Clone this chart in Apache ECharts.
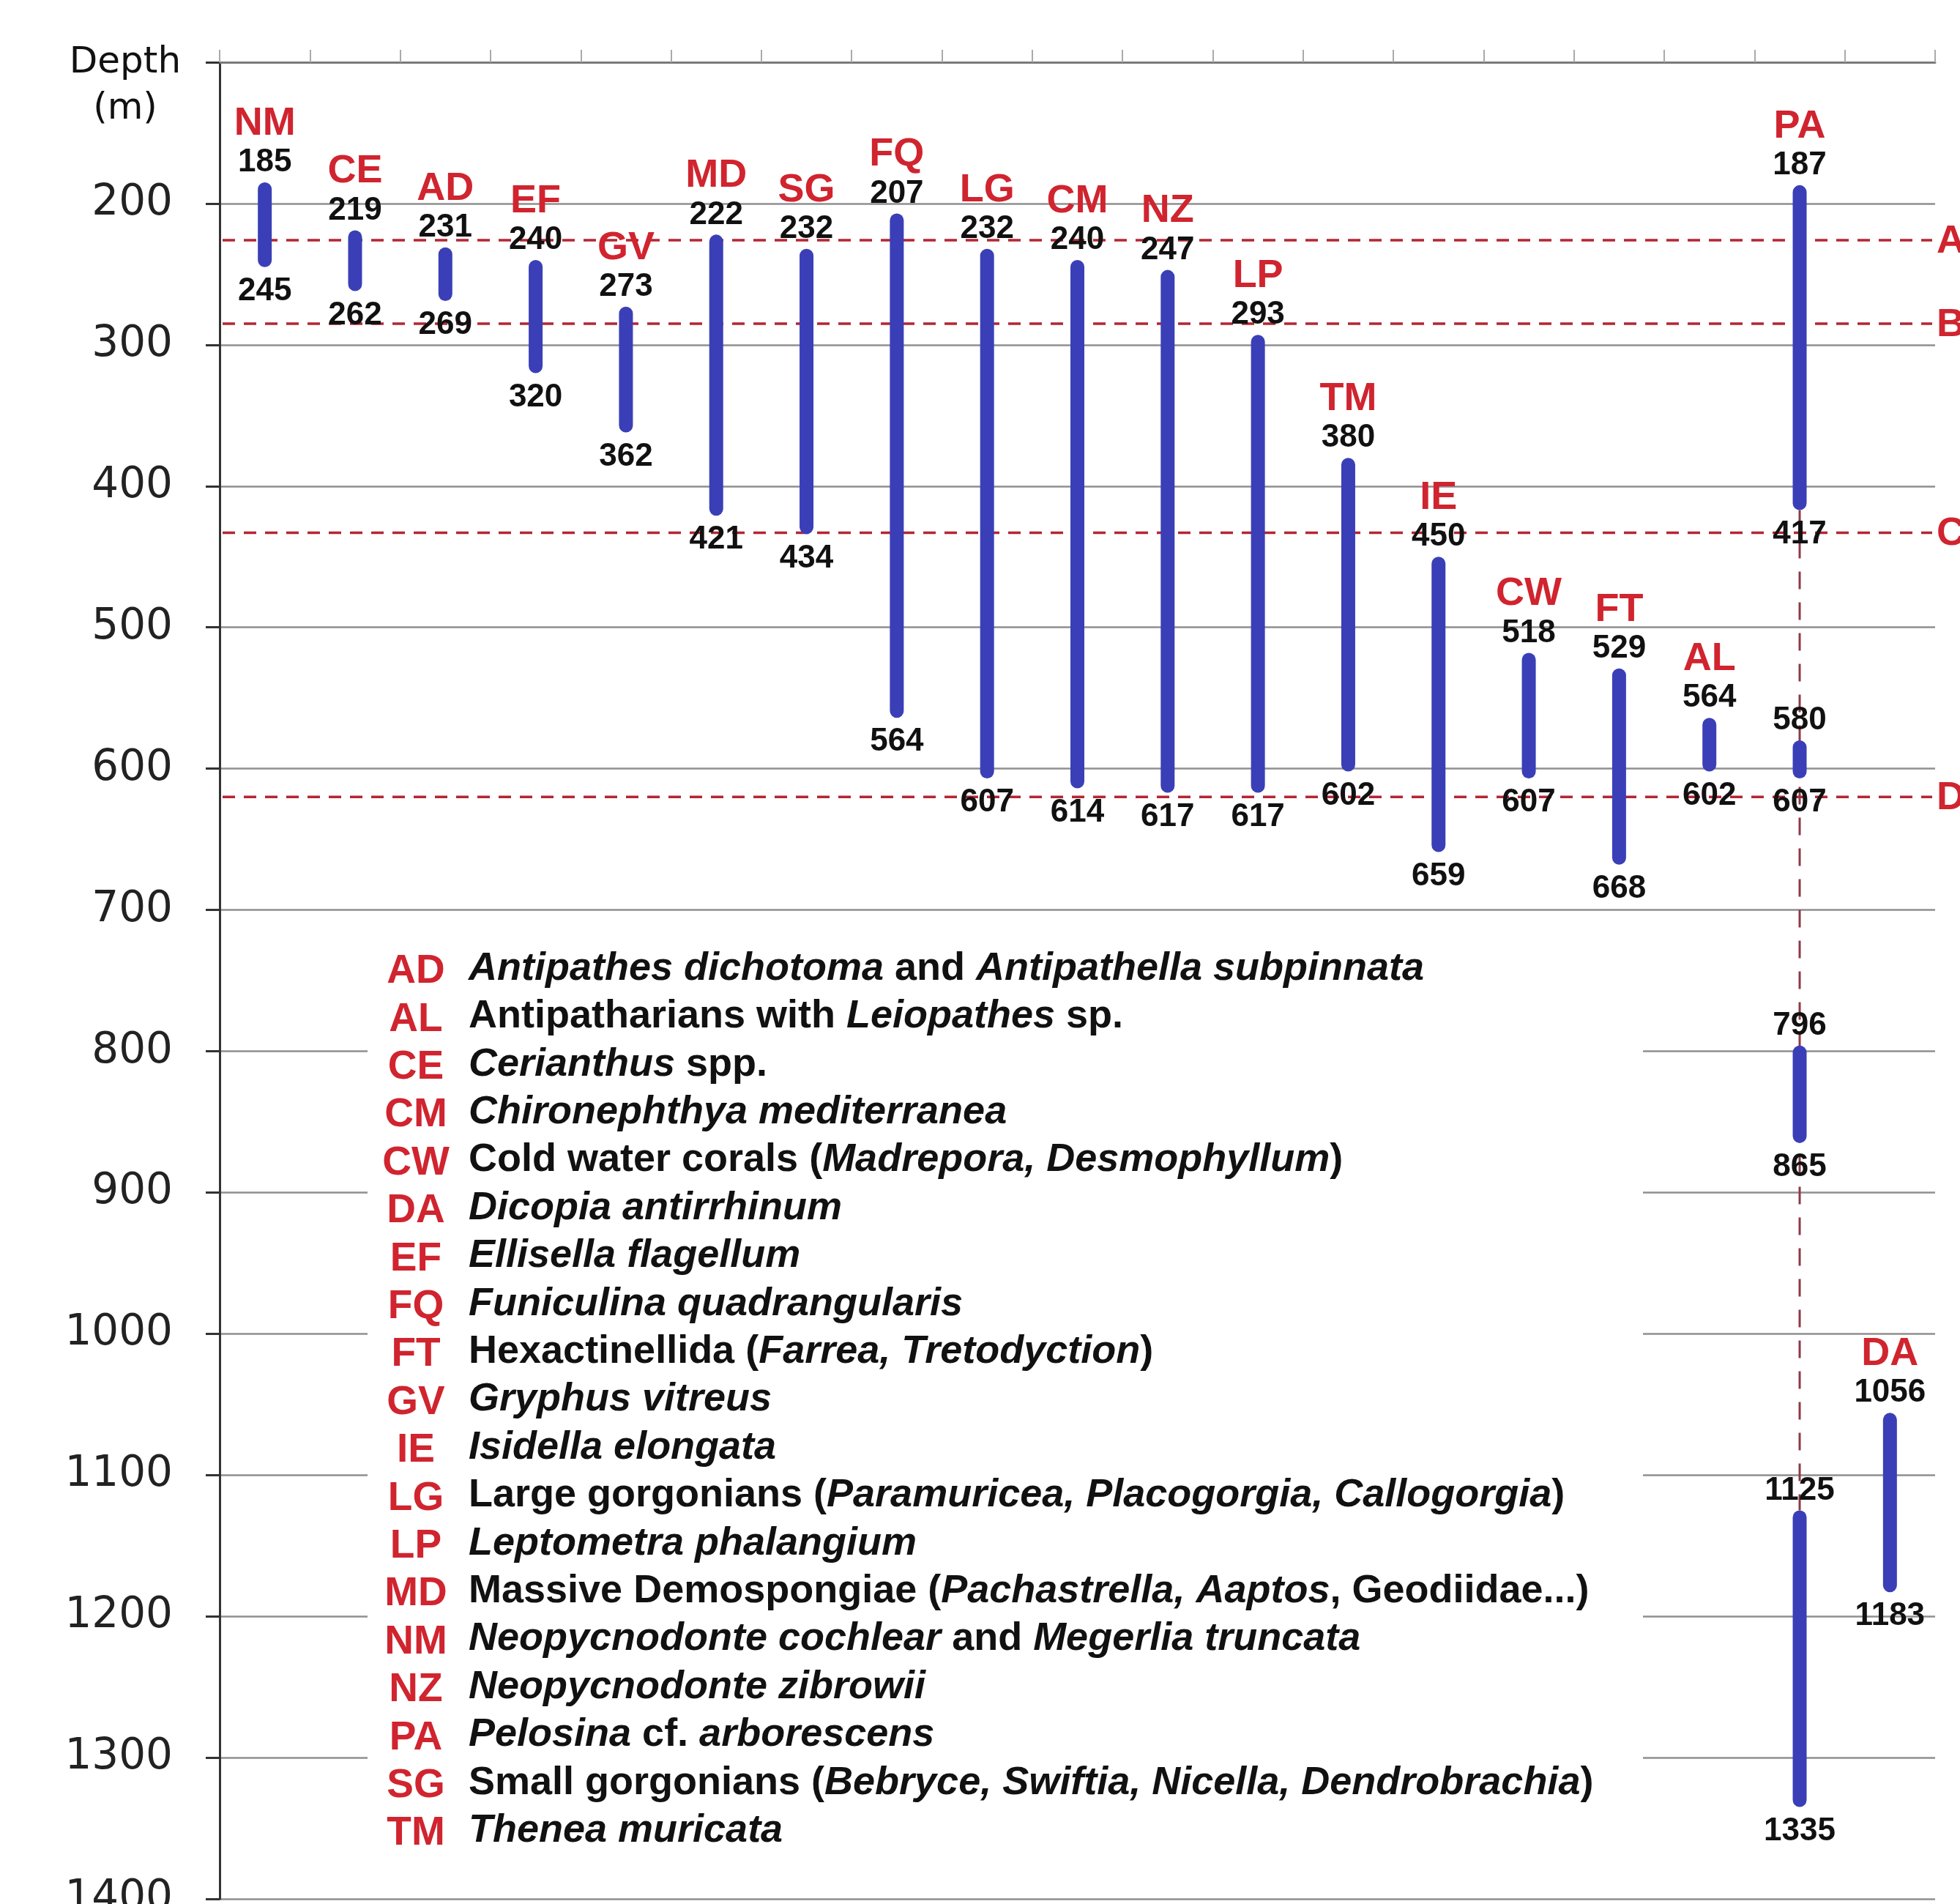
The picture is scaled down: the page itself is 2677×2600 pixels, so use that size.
<!DOCTYPE html>
<html>
<head>
<meta charset="utf-8">
<script src="https://cdn.jsdelivr.net/npm/echarts@6/dist/echarts.min.js"></script>
<style>
html,body{margin:0;padding:0;background:#fff;}
#chart{width:2677px;height:2600px;}
</style>
</head>
<body>
<div id="chart"></div>
<script>
// ---- data ----
const categories = ['NM','CE','AD','EF','GV','MD','SG','FQ','LG','CM','NZ','LP','TM','IE','CW','FT','AL','PA','DA'];
const rangeTop    = [185,219,231,240,273,222,232,207,232,240,247,293,380,450,518,529,564,187,1056];
const rangeBottom = [245,262,269,320,362,421,434,564,607,614,617,617,602,659,607,668,602,417,1183];
// extra (disjunct) depth segments
const extraCategory = ['PA','PA','PA'];
const extraTop      = [580,796,1125];
const extraBottom   = [607,865,1335];
// dashed connector between disjunct segments
const linkCategory = ['PA'];
const linkFrom     = [417];
const linkTo       = [1125];
// horizontal zone boundaries
const zoneDepth = [226,285,433,620];
const zoneLabel = ['A','B','C','D'];
// y axis
const depthMin = 100, depthMax = 1400, depthStep = 100;
// legend
const legendCodes = ['AD','AL','CE','CM','CW','DA','EF','FQ','FT','GV','IE','LG','LP','MD','NM','NZ','PA','SG','TM'];
const legendNames = [
 '*Antipathes dichotoma* and *Antipathella subpinnata*',
 'Antipatharians with *Leiopathes* sp.',
 '*Cerianthus* spp.',
 '*Chironephthya mediterranea*',
 'Cold water corals (*Madrepora, Desmophyllum*)',
 '*Dicopia antirrhinum*',
 '*Ellisella flagellum*',
 '*Funiculina quadrangularis*',
 'Hexactinellida (*Farrea, Tretodyction*)',
 '*Gryphus vitreus*',
 '*Isidella elongata*',
 'Large gorgonians (*Paramuricea, Placogorgia, Callogorgia*)',
 '*Leptometra phalangium*',
 'Massive Demospongiae (*Pachastrella, Aaptos*, Geodiidae...)',
 '*Neopycnodonte cochlear* and *Megerlia truncata*',
 '*Neopycnodonte zibrowii*',
 '*Pelosina* cf. *arborescens*',
 'Small gorgonians (*Bebryce, Swiftia, Nicella, Dendrobrachia*)',
 '*Thenea muricata*'
];

// ---- build ----
const RED = '#d0242f';
const BLUE = '#3a3fb7';
const F = "'Liberation Sans', Arial, sans-serif";

const segData = [];
categories.forEach((c,i)=>segData.push([i, rangeTop[i], rangeBottom[i], 1]));
extraCategory.forEach((c,k)=>segData.push([categories.indexOf(c), extraTop[k], extraBottom[k], 0]));
const linkData = linkCategory.map((c,k)=>[categories.indexOf(c), linkFrom[k], linkTo[k]]);
const zoneData = zoneDepth.map((d,k)=>[0, d, k]);

function toRich(s){
  const parts = s.split('*');
  return parts.map((p,i)=> p==='' ? '' : (i%2 ? '{i|'+p+'}' : '{r|'+p+'}')).join('');
}

const chart = echarts.init(document.getElementById('chart'));

const legendTop = 1323, legendStep = 65.4;
const graphics = [
  {type:'rect', z:1, shape:{x:502, y:1268, width:1742, height:1290}, style:{fill:'#ffffff'}},
  {type:'text', z:10, x:171, y:118, style:{text:'Depth\n(m)', fill:'#111', fontSize:50, fontFamily:"'DejaVu Sans', sans-serif", lineHeight:63, align:'center', verticalAlign:'middle'}}
];
legendCodes.forEach((c,k)=>{
  const y = legendTop + k*legendStep;
  graphics.push({type:'text', z:10, x:568, y:y+4, style:{text:c, fill:RED, fontSize:55, fontWeight:'bold', fontFamily:F, align:'center', verticalAlign:'middle'}});
  graphics.push({type:'text', z:10, x:640, y:y, style:{text:toRich(legendNames[k]), fontFamily:F, align:'left', verticalAlign:'middle',
    rich:{r:{fontSize:54, fontWeight:'bold', fill:'#111', fontFamily:F}, i:{fontSize:54, fontWeight:'bold', fontStyle:'italic', fill:'#111', fontFamily:F}}}});
});

chart.setOption({
  animation:false,
  backgroundColor:'#fff',
  grid:{left:300, right:34, top:85, bottom:7, containLabel:false, outerBoundsMode:'none'},
  xAxis:{
    type:'category', data:categories, position:'top',
    axisLine:{lineStyle:{color:'#7a7a7a', width:3}},
    axisTick:{show:true, length:17, lineStyle:{color:'#aaaaaa', width:2}},
    axisLabel:{show:false},
    splitLine:{show:false}
  },
  yAxis:{
    type:'value', inverse:true, min:depthMin, max:depthMax, interval:depthStep,
    axisLine:{show:true, lineStyle:{color:'#333', width:3}},
    axisTick:{show:true, length:19, lineStyle:{color:'#333', width:3}},
    axisLabel:{margin:64, fontSize:58, color:'#222', fontFamily:"'DejaVu Sans', sans-serif",
      formatter:v=> v===depthMin ? '' : String(v)},
    splitLine:{show:true, lineStyle:{color:'#8f8f8f', width:2.5}}
  },
  graphic:graphics,
  series:[
    { // zone boundaries
      type:'custom', z:3, data:zoneData, encode:{x:0,y:1}, silent:true,
      renderItem:(params, api)=>{
        const cs = params.coordSys;
        const y = api.coord([0, api.value(1)])[1];
        return {type:'group', children:[
          {type:'line', shape:{x1:cs.x+4, y1:y, x2:cs.x+cs.width-4, y2:y}, style:{stroke:'#b42633', lineWidth:3.5, lineDash:[17,12]}},
          {type:'text', x:cs.x+cs.width+2, y:y+2, style:{text:zoneLabel[api.value(2)], fill:RED, fontSize:54, fontWeight:'bold', fontFamily:F, align:'left', verticalAlign:'middle'}}
        ]};
      }
    },
    { // connector
      type:'custom', z:4, data:linkData, encode:{x:0,y:[1,2]}, silent:true,
      renderItem:(params, api)=>{
        const p1 = api.coord([api.value(0), api.value(1)]);
        const p2 = api.coord([api.value(0), api.value(2)]);
        return {type:'line', shape:{x1:p1[0], y1:p1[1], x2:p2[0], y2:p2[1]}, style:{stroke:'#8c3a48', lineWidth:3, lineDash:[24,18]}};
      }
    },
    { // depth ranges
      type:'custom', z:5, data:segData, encode:{x:0,y:[1,2]},
      renderItem:(params, api)=>{
        const idx = api.value(0);
        const top = api.value(1), bot = api.value(2);
        const pT = api.coord([idx, top]);
        const pB = api.coord([idx, bot]);
        const w = 19;
        const ch = [
          {type:'rect', shape:{x:pT[0]-w/2, y:pT[1], width:w, height:pB[1]-pT[1], r:w/2}, style:{fill:BLUE}},
          {type:'text', x:pT[0], y:pT[1]-27, style:{text:String(top), fill:'#111', fontSize:44, fontWeight:'bold', fontFamily:F, align:'center', verticalAlign:'middle'}},
          {type:'text', x:pB[0], y:pB[1]+33, style:{text:String(bot), fill:'#111', fontSize:44, fontWeight:'bold', fontFamily:F, align:'center', verticalAlign:'middle'}}
        ];
        if (api.value(3) === 1) {
          ch.push({type:'text', x:pT[0], y:pT[1]-80, style:{text:categories[idx], fill:RED, fontSize:54, fontWeight:'bold', fontFamily:F, align:'center', verticalAlign:'middle'}});
        }
        return {type:'group', children:ch};
      }
    }
  ]
});
</script>
</body>
</html>
